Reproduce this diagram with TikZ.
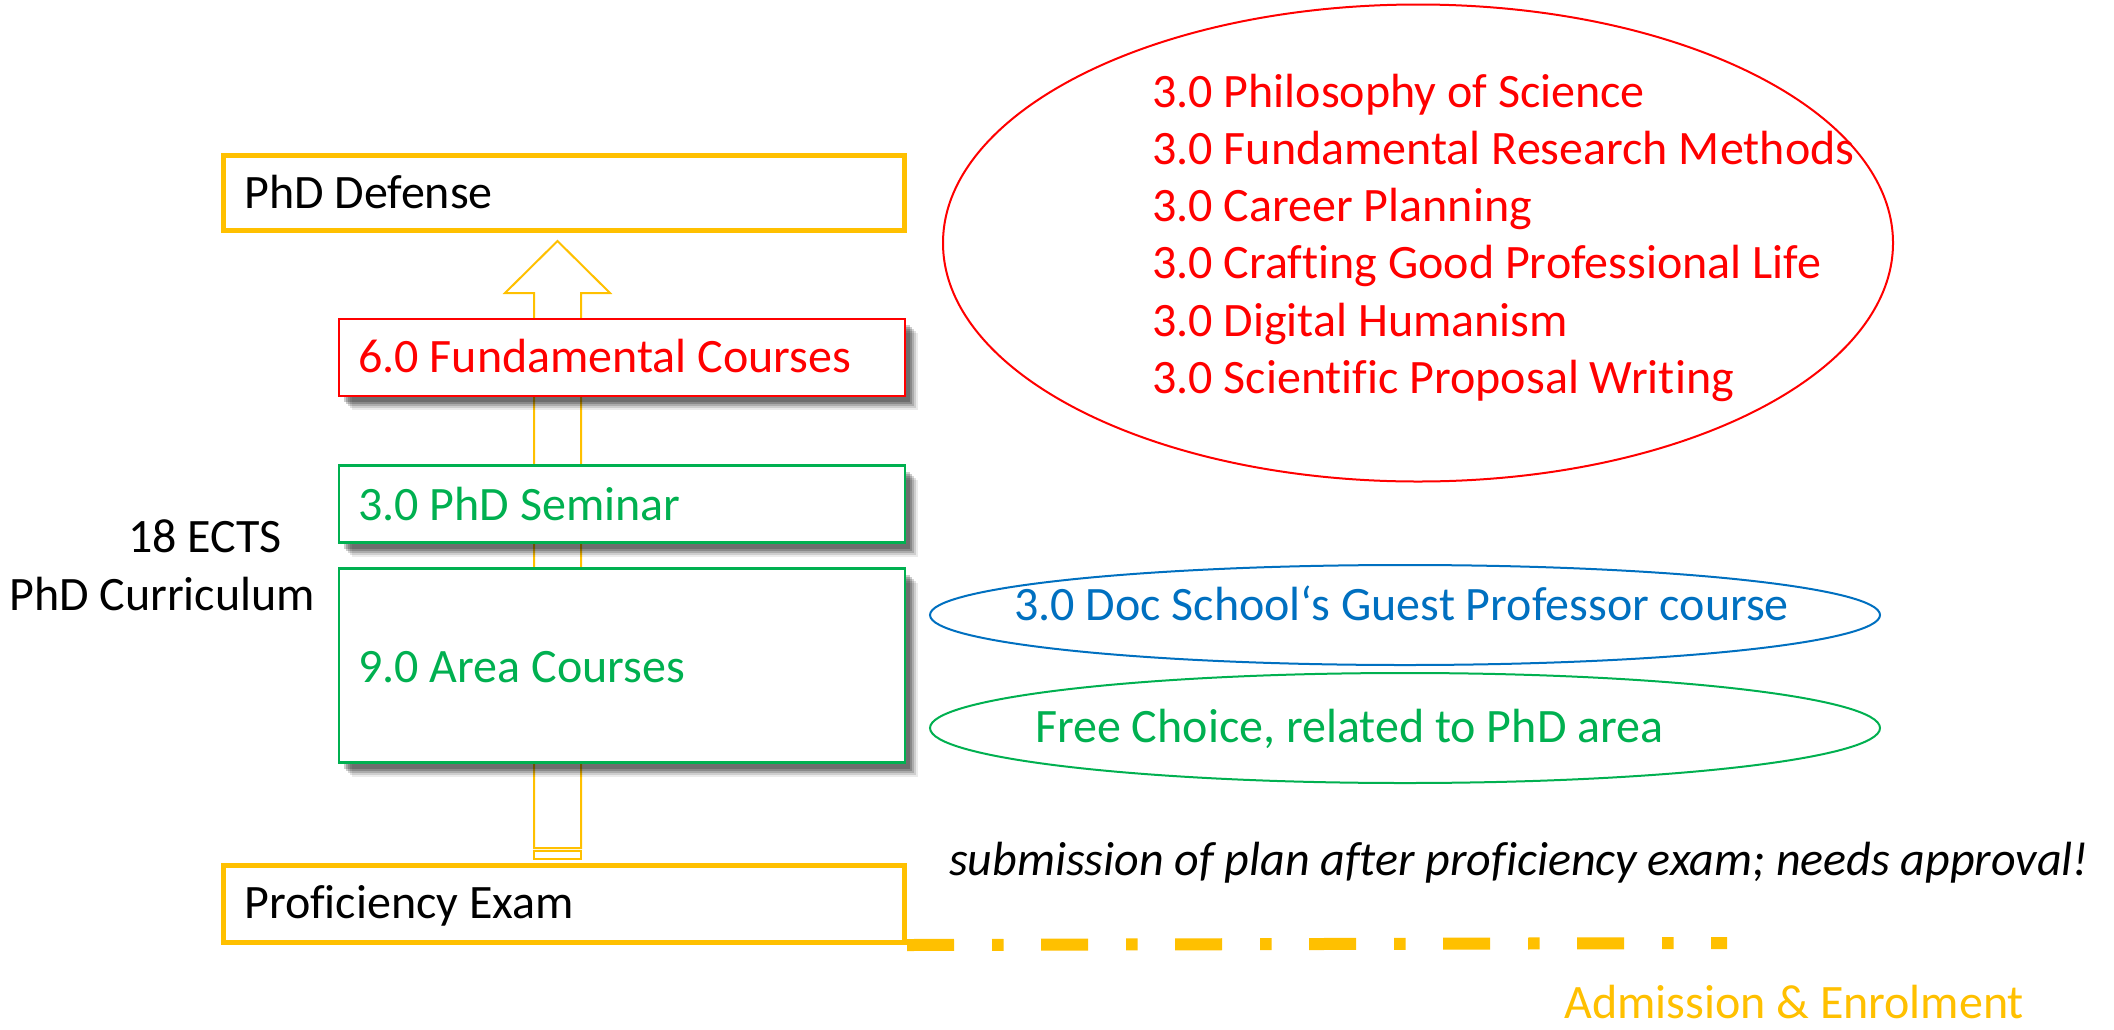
\documentclass[tikz,border=0pt]{standalone}
\usepackage{fontspec}
\setmainfont[Ligatures={TeX,NoCommon}]{Carlito}
\usetikzlibrary{shapes.geometric,shadows}
\definecolor{gold}{HTML}{FFC000}
\definecolor{pred}{HTML}{FF0000}
\definecolor{pgreen}{HTML}{00B050}
\definecolor{pblue}{HTML}{0070C0}
\tikzset{
  txt/.style={anchor=base west, inner sep=0pt, font=\fontsize{48}{57}\selectfont},
  goldbox/.style={draw=gold, line width=5pt, fill=white, rectangle, inner sep=0pt},
  shbox/.style={draw=#1, line width=2.5pt, fill=white, rectangle, inner sep=0pt,
    drop shadow={shadow xshift=13pt, shadow yshift=-14pt, opacity=0.08, fill=black},
    drop shadow={shadow xshift=11pt, shadow yshift=-12pt, opacity=0.12, fill=black},
    drop shadow={shadow xshift=9pt, shadow yshift=-10pt, opacity=0.16, fill=black},
    drop shadow={shadow xshift=7pt, shadow yshift=-8pt, opacity=0.2, fill=black},
    drop shadow={shadow xshift=5pt, shadow yshift=-6pt, opacity=0.2, fill=black}},
  oval/.style={draw=#1, line width=2pt, ellipse, inner sep=0pt},
}
\begin{document}
\begin{tikzpicture}[x=1pt, y=-1pt]
\useasboundingbox[fill=white] (0,0) rectangle (2114,1029);

% block arrow from proficiency exam to defense
\draw[gold, line width=2pt, fill=white]
  (534,848) -- (534,293) -- (505,293) -- (557.5,241) -- (610,293) -- (581,293) -- (581,848) -- cycle;
\draw[gold, line width=2pt] (534,851) rectangle (581,859);

% boxes
\node[goldbox, minimum width=681pt, minimum height=75pt] (def) at (564,192.5) {};
\node[shbox=pred, minimum width=566pt, minimum height=77pt] (fund) at (622,357.5) {};
\node[shbox=pgreen, minimum width=566pt, minimum height=77pt] (sem) at (622,504) {};
\node[shbox=pgreen, minimum width=566pt, minimum height=194pt] (area) at (622,665.5) {};
\node[goldbox, minimum width=681pt, minimum height=77pt] (pe) at (564,904) {};

\node[txt] (tdef) at (244,208) {PhD Defense};
\node[txt, text=pred] (tfund) at (358,372) {6.0 Fundamental Courses};
\node[txt, text=pgreen] (tsem) at (358,520) {3.0 PhD Seminar};
\node[txt, text=pgreen] (tarea) at (358,682) {9.0 Area Courses};
\node[txt] (tpe) at (244,918) {Proficiency Exam};

\node[txt] (ects) at (128,552) {18 ECTS};
\node[txt] (curr) at (9,610) {PhD Curriculum};

% ellipses
\node[oval=pred, minimum width=950pt, minimum height=477pt] (redov) at (1418,243) {};
\node[oval=pblue, minimum width=950pt, minimum height=100pt] (blueov) at (1405,615) {};
\node[oval=pgreen, minimum width=950pt, minimum height=110pt] (greenov) at (1405,728) {};

\node[txt, text=pred] (r1) at (1152,107) {3.0 Philosophy of Science};
\node[txt, text=pred] (r2) at (1152,164) {3.0 Fundamental Research Methods};
\node[txt, text=pred] (r3) at (1152,221) {3.0 Career Planning};
\node[txt, text=pred] (r4) at (1152,278) {3.0 Crafting Good Professional Life};
\node[txt, text=pred] (r5) at (1152,336) {3.0 Digital Humanism};
\node[txt, text=pred] (r6) at (1152,393) {3.0 Scientific Proposal Writing};

\node[txt, text=pblue] (tblue) at (1014,620) {3.0 Doc School‘s Guest Professor course};
\node[txt, text=pgreen] (tgreen) at (1035,742) {Free Choice, related to PhD area};

\node[txt, font=\fontsize{48}{57}\selectfont\itshape] (sub) at (949,875) {submission of plan after proficiency exam; needs approval!};

% admission line
\coordinate (dashend) at (1727,943);
\draw[gold, line width=12pt, dash pattern=on 47pt off 38pt on 11.5pt off 37.5pt] (pe.south east) -- (dashend);
\node[txt, text=gold] (adm) at (1564,1018) {Admission \& Enrolment};
\end{tikzpicture}
\end{document}
